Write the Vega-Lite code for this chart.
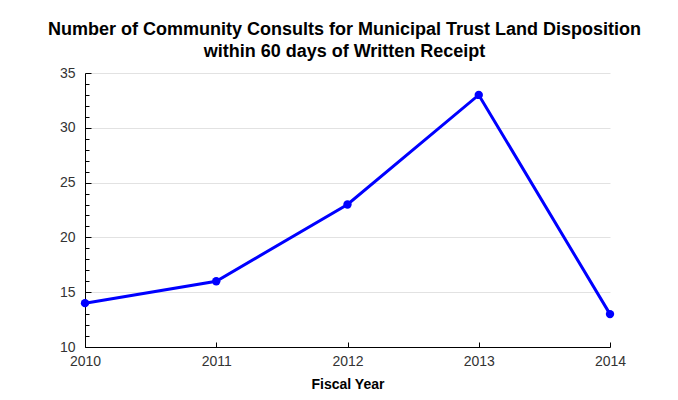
{
  "$schema": "https://vega.github.io/schema/vega-lite/v6.json",
  "width": 525,
  "height": 274,
  "autosize": {"type": "none"},
  "padding": {"left": 85, "top": 73, "right": 68, "bottom": 53},
  "background": "white",
  "title": {
    "text": ["Number of Community Consults for Municipal Trust Land Disposition", "within 60 days of Written Receipt"],
    "font": "Liberation Sans",
    "fontSize": 18,
    "fontWeight": "bold",
    "color": "#000000",
    "anchor": "middle",
    "frame": "group",
    "dx": -3,
    "offset": 5,
    "lineHeight": 22
  },
  "config": {
    "view": {"stroke": null},
    "font": "Liberation Sans",
    "axis": {
      "labelFont": "Liberation Sans",
      "labelFontSize": 14,
      "labelColor": "#333333",
      "titleFont": "Liberation Sans",
      "domainColor": "#000000",
      "tickColor": "#000000"
    }
  },
  "data": {
    "values": [
      {"year": 2010, "count": 14},
      {"year": 2011, "count": 16},
      {"year": 2012, "count": 23},
      {"year": 2013, "count": 33},
      {"year": 2014, "count": 13}
    ]
  },
  "encoding": {
    "x": {
      "field": "year",
      "type": "quantitative",
      "scale": {"domain": [2010, 2014], "nice": false, "zero": false},
      "axis": {
        "values": [2010, 2011, 2012, 2013, 2014],
        "format": "d",
        "grid": false,
        "tickSize": -5,
        "labelPadding": 12,
        "labelFlush": false,
        "title": "Fiscal Year",
        "titleFontSize": 14,
        "titleFontWeight": "bold",
        "titleColor": "#000000",
        "titlePadding": 9
      }
    },
    "y": {
      "field": "count",
      "type": "quantitative",
      "scale": {"domain": [10, 35], "nice": false, "zero": false},
      "axis": {
        "values": [10,11,12,13,14,15,16,17,18,19,20,21,22,23,24,25,26,27,28,29,30,31,32,33,34,35],
        "labelExpr": "datum.value % 5 === 0 ? datum.label : ''",
        "tickSize": {"condition": {"test": "datum.value % 5 === 0", "value": -6}, "value": -4},
        "grid": true,
        "gridColor": {"condition": {"test": "datum.value % 5 === 0", "value": "#e2e2e2"}, "value": "transparent"},
        "gridWidth": 1,
        "labelPadding": 16,
        "labelFlush": false,
        "title": null
      }
    }
  },
  "layer": [
    {"mark": {"type": "line", "color": "#0000ff", "strokeWidth": 3}},
    {"mark": {"type": "point", "shape": "circle", "filled": true, "color": "#0000ff", "size": 70, "opacity": 1}}
  ]
}
